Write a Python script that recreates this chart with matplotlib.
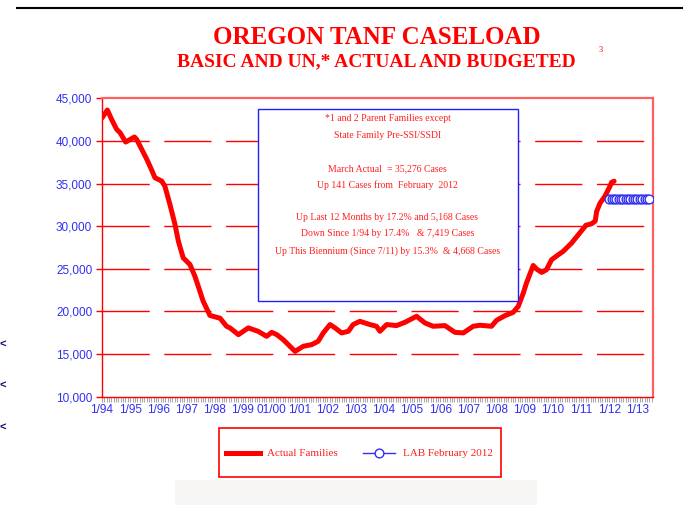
import numpy as np
import matplotlib.pyplot as plt
from matplotlib.patches import Rectangle
from matplotlib.lines import Line2D

# ---- data (decimal years) ----
actual_dates = [1994.00, 1994.19, 1994.34, 1994.52, 1994.64, 1994.84, 1995.15, 1995.23,
                1995.41, 1995.59, 1995.70, 1995.88, 1996.12, 1996.23, 1996.41, 1996.59,
                1996.71, 1996.88, 1997.12, 1997.30, 1997.59, 1997.83, 1998.19, 1998.42,
                1998.54, 1998.84, 1999.19, 1999.54, 1999.84, 2000.02, 2000.20, 2000.43,
                2000.85, 2001.14, 2001.44, 2001.67, 2001.85, 2002.09, 2002.27, 2002.50,
                2002.74, 2002.91, 2003.15, 2003.51, 2003.74, 2003.86, 2004.10, 2004.45,
                2004.75, 2005.16, 2005.46, 2005.75, 2006.17, 2006.52, 2006.82, 2007.17,
                2007.41, 2007.82, 2008.00, 2008.30, 2008.59, 2008.77, 2008.95, 2009.06,
                2009.30, 2009.42, 2009.60, 2009.77, 2009.95, 2010.19, 2010.36, 2010.66,
                2010.95, 2011.17, 2011.37, 2011.50, 2011.55, 2011.67, 2011.84, 2012.02,
                2012.08, 2012.17]
actual_families = [42695, 43630, 42530, 41360, 40970, 39870, 40460, 40180,
                   39010, 37840, 37050, 35680, 35290, 34700, 32550, 30200,
                   28240, 26290, 25500, 24100, 21200, 19530, 19200, 18260,
                   18070, 17280, 18070, 17670, 17080, 17550, 17280, 16690,
                   15320, 15910, 16110, 16500, 17480, 18460, 18070, 17480,
                   17670, 18460, 18840, 18460, 18260, 17670, 18460, 18340,
                   18730, 19430, 18650, 18260, 18340, 17550, 17480, 18260,
                   18380, 18260, 18960, 19510, 19900, 20600, 22180, 23330,
                   25390, 24970, 24580, 24890, 26060, 26650, 27040, 28020,
                   29200, 30108, 30280, 30608, 31720, 32700, 33490, 34660,
                   35135, 35276]

lab_months = ['1/12', '2/12', '3/12', '4/12', '5/12', '6/12', '7/12', '8/12', '9/12',
              '10/12', '11/12', '12/12', '1/13', '2/13', '3/13', '4/13', '5/13', '6/13']
lab_values = [33200, 33200, 33200, 33200, 33200, 33200, 33200, 33200, 33200,
              33200, 33200, 33200, 33200, 33200, 33200, 33200, 33200, 33200]

year_ticks = list(range(1994, 2014))
year_labels = ['1/94', '1/95', '1/96', '1/97', '1/98', '1/99', '01/00', '1/01', '1/02', '1/03',
               '1/04', '1/05', '1/06', '1/07', '1/08', '1/09', '1/10', '1/11', '1/12', '1/13']

box_lines = ['*1 and 2 Parent Families except',
             'State Family Pre-SSI/SSDI',
             '',
             'March Actual  = 35,276 Cases',
             'Up 141 Cases from  February  2012',
             '',
             'Up Last 12 Months by 17.2% and 5,168 Cases',
             'Down Since 1/94 by 17.4%   & 7,419 Cases',
             'Up This Biennium (Since 7/11) by 15.3%  & 4,668 Cases']

RED = '#ff0000'
BLUE = '#3030f0'
SERIF = 'Liberation Serif'
SANS = 'Liberation Sans'


def month_to_year(m):
    mm, yy = m.split('/')
    return 2000 + int(yy) + (int(mm) - 1) / 12.0


lab_dates = [month_to_year(m) for m in lab_months]

fig = plt.figure(figsize=(6.83, 5.14), dpi=100)
ax = fig.add_axes([102 / 683, 1 - 396.7 / 514, (653 - 102) / 683, (396.7 - 98.3) / 514])

# dashed horizontal grid
for yv in range(15000, 45000, 5000):
    ax.axhline(yv, color=RED, lw=1.0, ls=(0, (34, 10.5)), zorder=1)

ax.plot(actual_dates, actual_families, color=RED, lw=3.6, solid_capstyle='round',
        solid_joinstyle='round', zorder=5)
ax.plot(lab_dates, lab_values, color=BLUE, lw=1.0, marker='o', ms=6.3, mfc='white',
        mec=BLUE, mew=1.0, zorder=6)

ax.set_xlim(1994.0, 2013.55)
ax.set_ylim(10000, 45000)

ax.set_yticks(range(10000, 45001, 5000))
ax.set_yticklabels(['{:,}'.format(v) for v in range(10000, 45001, 5000)],
                   fontsize=8.5, color=BLUE, family=SANS)
ax.set_xticks(year_ticks)
ax.set_xticklabels(year_labels, fontsize=8.5, color=BLUE, family=SANS)
ax.set_xticks(np.arange(1994, 2013.55, 1 / 12.0), minor=True)
ax.tick_params(axis='y', direction='out', length=4, width=1, color=RED, pad=3)
ax.tick_params(axis='x', which='both', direction='out', length=3.5, width=0.8,
               color='#aaaaaa', pad=2)

for side in ['left', 'bottom']:
    ax.spines[side].set_color(RED)
    ax.spines[side].set_linewidth(1.0)
for side in ['top', 'right']:
    ax.spines[side].set_color('#ff6060')
    ax.spines[side].set_linewidth(1.6)

# text box
bx0, bx1, by0, by1 = 257.5, 517.5, 109.3, 300.7
box = Rectangle((bx0 / 683, 1 - by1 / 514), (bx1 - bx0) / 683, (by1 - by0) / 514,
                transform=fig.transFigure, facecolor='white', edgecolor='#2020ff',
                lw=1.0, zorder=10)
fig.patches.append(box)
cx = 387.5 / 683
line_y = [118.3, 135.7, None, 168.7, 184.7, None, 217.7, 233.7, 250.7]
for txt, yy in zip(box_lines, line_y):
    if yy is None:
        continue
    fig.text(cx, 1 - yy / 514, txt, ha='center', va='center', fontsize=7,
             color='#ff2020', family=SERIF, zorder=11)

# titles
fig.text(377 / 683, 1 - 37 / 514, 'OREGON TANF CASELOAD', ha='center', va='center',
         fontsize=18, fontweight='bold', color=RED, family=SERIF)
fig.text(376 / 683, 1 - 62 / 514, 'BASIC AND UN,* ACTUAL AND BUDGETED', ha='center',
         va='center', fontsize=14, fontweight='bold', color=RED, family=SERIF)
fig.text(601 / 683, 1 - 50 / 514, '3', ha='center', va='center', fontsize=6,
         color=RED, family=SERIF)

# top rule
fig.add_artist(Line2D([17 / 683, 1.0], [1 - 8 / 514, 1 - 8 / 514], color='black', lw=1.5))

# legend box
lx0, lx1, ly0, ly1 = 219.3, 501, 428.3, 477.3
fig.patches.append(Rectangle((lx0 / 683, 1 - ly1 / 514), (lx1 - lx0) / 683, (ly1 - ly0) / 514,
                             transform=fig.transFigure, facecolor='white', edgecolor=RED,
                             lw=1.2))
ly = 1 - 453.3 / 514
fig.add_artist(Line2D([226 / 683, 260 / 683], [ly, ly], color=RED, lw=3.6))
fig.text(266.7 / 683, ly, 'Actual Families', ha='left', va='center', fontsize=8,
         color='#ff2020', family=SERIF)
fig.add_artist(Line2D([363 / 683, 395 / 683], [ly, ly], color=BLUE, lw=1.0))
fig.add_artist(Line2D([379.3 / 683], [ly], color=BLUE, marker='o', ms=6.3, mfc='white',
                      mec=BLUE, mew=1.0))
fig.text(402.7 / 683, ly, 'LAB February 2012', ha='left', va='center', fontsize=8,
         color='#ff2020', family=SERIF)

# faint panel under legend
fig.patches.append(Rectangle((175 / 683, 1 - 505 / 514), 362 / 683, 25 / 514,
                             transform=fig.transFigure, facecolor='#f8f6f4',
                             edgecolor='none', zorder=0))

# bullet leftovers at left edge
for yy in [345, 386, 428]:
    fig.text(-1 / 683, 1 - yy / 514, '<', ha='left', va='center', fontsize=8,
             color='#101070', fontweight='bold', family=SANS)

fig.savefig('out.png', dpi=100)
